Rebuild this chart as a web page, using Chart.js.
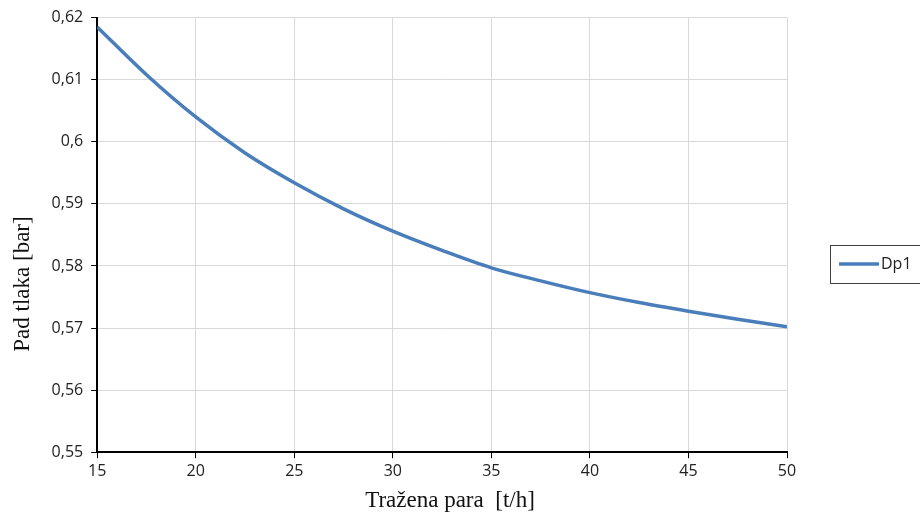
<!DOCTYPE html>
<html>
<head>
<meta charset="utf-8">
<script src="https://cdn.jsdelivr.net/npm/chart.js@4.4.1/dist/chart.umd.min.js"></script>
<style>
  html, body { margin: 0; padding: 0; background: #fff; }
  #wrap { width: 920px; height: 518px; }
</style>
</head>
<body>
<div id="wrap"><canvas id="dpChart" width="920" height="518"></canvas></div>
<script>
// podaci očitani sa slike
var steamFlow = [15, 17.5, 20, 22.5, 25, 27.5, 30, 32.5, 35, 37.5, 40, 42.5, 45, 47.5, 50];
var pressureDrop = [0.6185, 0.6108, 0.6040, 0.5982, 0.5934, 0.5892, 0.5856, 0.5825, 0.5797, 0.5776, 0.5757, 0.5741, 0.5727, 0.5714, 0.5702];
var seriesName = 'Dp1';
var xTitle = 'Tražena para  [t/h]';
var yTitle = 'Pad tlaka [bar]';

var lineColor = '#4a7ebb';
var titleCss = '23px "Liberation Serif", serif';

function fmtComma(v) {
    var s = (Math.round(v * 100) / 100).toString();
    return s.replace('.', ',');
}

// okvir legende i naslovi osi kao u Excelu
var excelDecor = {
    id: 'excelDecor',
    afterDraw: function (chart) {
        var ctx = chart.ctx;
        ctx.save();
        // legenda
        ctx.strokeStyle = '#404040';
        ctx.lineWidth = 1;
        ctx.strokeRect(830.5, 245.5, 92, 38);
        ctx.strokeStyle = lineColor;
        ctx.lineWidth = 3.5;
        ctx.beginPath();
        ctx.moveTo(839, 264);
        ctx.lineTo(879, 264);
        ctx.stroke();
        ctx.fillStyle = '#222';
        ctx.font = '16px "Open Sans", sans-serif';
        ctx.textBaseline = 'middle';
        ctx.textAlign = 'left';
        ctx.fillText(seriesName, 881, 264);

        // naslovi osi
        ctx.font = titleCss;
        ctx.textAlign = 'center';
        ctx.fillStyle = '#111';
        ctx.fillText(xTitle, 450, 501);
        ctx.translate(23, 284);
        ctx.rotate(-Math.PI / 2);
        ctx.fillText(yTitle, 0, 0);
        ctx.restore();
    }
};

var data = {
    datasets: [{
        label: seriesName,
        data: steamFlow.map(function (x, i) { return { x: x, y: pressureDrop[i] }; }),
        borderColor: lineColor,
        borderWidth: 3.5,
        pointRadius: 0,
        fill: false,
        cubicInterpolationMode: 'monotone'
    }]
};

var tickFont = { family: '"Open Sans", sans-serif', size: 16 };
var titleFont = { family: '"Liberation Serif", serif', size: 23 };
var hidden = 'rgba(0,0,0,0)';

var options = {
    responsive: false,
    animation: false,
    layout: { padding: { left: 8, right: 133, top: 15, bottom: 5 } },
    plugins: {
        legend: { display: false },
        tooltip: { enabled: false }
    },
    scales: {
        x: {
            type: 'linear',
            min: 15,
            max: 50,
            ticks: { stepSize: 5, color: '#222', font: tickFont, padding: 4 },
            grid: { color: '#d9d9d9', tickColor: '#000', tickLength: 6, lineWidth: 1 },
            border: { color: '#000', width: 2 },
            // mjesto za naslov, sam tekst crta excelDecor
            title: { display: true, text: xTitle, color: hidden, font: titleFont, padding: { top: 0, bottom: 0 } }
        },
        y: {
            min: 0.55,
            max: 0.62,
            ticks: { stepSize: 0.01, color: '#222', font: tickFont, padding: 8, callback: function (v) { return fmtComma(v); } },
            grid: { color: '#d9d9d9', tickColor: '#000', tickLength: 6, lineWidth: 1 },
            border: { color: '#000', width: 2 },
            title: { display: true, text: yTitle, color: hidden, font: titleFont, padding: { bottom: 4 } }
        }
    }
};

var ctx = document.getElementById('dpChart').getContext('2d');
new Chart(ctx, { type: 'line', data: data, options: options, plugins: [excelDecor] });
</script>
</body>
</html>
